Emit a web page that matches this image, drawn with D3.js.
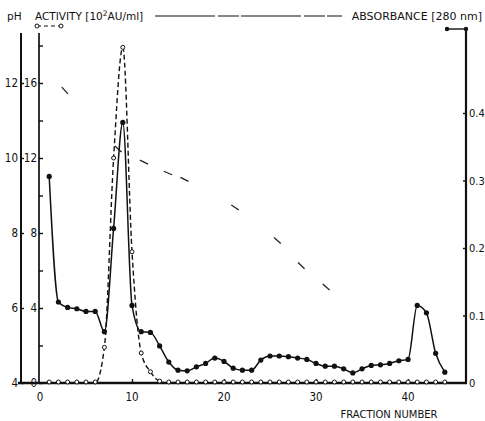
<!DOCTYPE html>
<html>
<head>
<meta charset="utf-8">
<script src="https://cdn.jsdelivr.net/npm/d3@7"></script>
<style>
  body { margin: 0; background: #fff; }
  svg text { font-family: "DejaVu Sans Condensed", "Liberation Sans Narrow", "DejaVu Sans", sans-serif; fill: #111; }
  svg text.wide { font-family: "DejaVu Sans", sans-serif; }
</style>
</head>
<body>
<div id="chart"></div>
<script>
// fraction numbers 1..44
const fractions = d3.range(1, 45);

// absorbance at 280 nm (filled circles)
const absorbance = [
  0.306, 0.120, 0.112, 0.110, 0.106, 0.106, 0.076, 0.229, 0.386, 0.115,
  0.076, 0.075, 0.055, 0.031, 0.019, 0.018, 0.024, 0.029, 0.037, 0.032,
  0.022, 0.019, 0.019, 0.034, 0.040, 0.040, 0.039, 0.037, 0.035, 0.029,
  0.025, 0.025, 0.021, 0.015, 0.021, 0.026, 0.027, 0.029, 0.033, 0.035,
  0.115, 0.104, 0.044, 0.016
];

// activity, 10^2 AU/ml (open circles)
const activity = [
  0, 0, 0, 0, 0, 0, 1.9, 12.0, 17.9, 7.0,
  1.6, 0.6, 0.1, 0, 0, 0, 0, 0, 0, 0,
  0, 0, 0, 0, 0, 0, 0, 0, 0, 0,
  0, 0, 0, 0, 0, 0, 0, 0, 0, 0,
  0, 0, 0, 0
];

// pH gradient readings
const phFractions = [2.7, 8.5, 11.3, 13.9, 15.7, 21.2, 25.8, 28.4, 31.1];
const phValues = [11.8, 10.24, 9.89, 9.6, 9.43, 8.68, 7.8, 7.13, 6.56];

// axis ticks
const xTicks = [0, 10, 20, 30, 40];
const phTicks = [4, 6, 8, 10, 12];
const actTicks = d3.range(0, 19, 2);
const actLabels = [0, 4, 8, 12, 16];
const absTicks = [0, 0.1, 0.2, 0.3, 0.4];

const width = 485, height = 421;
const base = 383;

const svg = d3.select("#chart").append("svg")
  .attr("width", width)
  .attr("height", height);

const x = d3.scaleLinear().domain([0, 46.3]).range([40, 466]);
const yAct = d3.scaleLinear().domain([0, 16]).range([base, 83]);
const yPh = d3.scaleLinear().domain([4, 12]).range([base, 83]);
const yAbs = d3.scaleLinear().domain([0, 0.4]).range([base, 113]);

const absData = fractions.map((f, i) => ({ f, v: absorbance[i] }));
const actData = fractions.map((f, i) => ({ f, v: activity[i] }));
const phData = phFractions.map((f, i) => ({ f, v: phValues[i] }));

// --- axes frame
const axisTop = 33;
svg.append("line")
  .attr("x1", 21).attr("x2", 21).attr("y1", axisTop).attr("y2", base)
  .attr("stroke", "#111").attr("stroke-width", 2);
svg.append("line")
  .attr("x1", x(0) - 1).attr("x2", x(0) - 1).attr("y1", axisTop).attr("y2", base)
  .attr("stroke", "#111").attr("stroke-width", 1.7);
svg.append("line")
  .attr("x1", 466).attr("x2", 466).attr("y1", 31).attr("y2", base)
  .attr("stroke", "#111").attr("stroke-width", 2.2);
svg.append("line")
  .attr("x1", 18).attr("x2", 467).attr("y1", base).attr("y2", base)
  .attr("stroke", "#111").attr("stroke-width", 2.6);

// pH axis (outer left)
const phAxis = d3.axisRight(yPh).tickValues(phTicks).tickSize(3).tickFormat("");
svg.append("g").attr("transform", "translate(21,0)").call(phAxis)
  .call(g => g.select(".domain").remove())
  .call(g => g.selectAll("line").attr("stroke", "#111").attr("stroke-width", 1.4));
svg.selectAll(".ph-label").data(phTicks).join("text")
  .attr("class", "ph-label")
  .attr("x", 18).attr("y", d => yPh(d) + 4)
  .attr("text-anchor", "end").attr("font-size", 11.5)
  .text(d => d);

// activity axis (inner left)
const actAxis = d3.axisRight(yAct).tickValues(actTicks).tickSize(4).tickFormat("");
svg.append("g").attr("transform", `translate(${x(0) - 1},0)`).call(actAxis)
  .call(g => g.select(".domain").remove())
  .call(g => g.selectAll("line").attr("stroke", "#111").attr("stroke-width", 1.4));
svg.selectAll(".act-label").data(actLabels).join("text")
  .attr("class", "act-label")
  .attr("x", 37).attr("y", d => yAct(d) + 4)
  .attr("text-anchor", "end").attr("font-size", 11.5)
  .text(d => d);

// absorbance axis (right)
const absAxis = d3.axisLeft(yAbs).tickValues(absTicks.slice(1)).tickSize(3).tickFormat("");
svg.append("g").attr("transform", "translate(466,0)").call(absAxis)
  .call(g => g.select(".domain").remove())
  .call(g => g.selectAll("line").attr("stroke", "#111").attr("stroke-width", 1.4));
svg.selectAll(".abs-label").data(absTicks).join("text")
  .attr("class", "abs-label")
  .attr("x", 469).attr("y", d => yAbs(d) + 4)
  .attr("font-size", 11)
  .text(d => d === 0 ? "0" : d3.format(".1f")(d));

// x axis
const xAxis = d3.axisTop(x).tickValues(xTicks.slice(1)).tickSize(4).tickFormat("");
svg.append("g").attr("transform", `translate(0,${base})`).call(xAxis)
  .call(g => g.select(".domain").remove())
  .call(g => g.selectAll("line").attr("stroke", "#111").attr("stroke-width", 1.4));
svg.selectAll(".x-label").data(xTicks).join("text")
  .attr("class", "x-label")
  .attr("x", d => x(d)).attr("y", 401)
  .attr("text-anchor", "middle").attr("font-size", 11.5)
  .text(d => d);
svg.append("text").attr("class", "wide")
  .attr("x", 389).attr("y", 418)
  .attr("text-anchor", "middle").attr("font-size", 10)
  .text("FRACTION NUMBER");

// --- pH gradient: short dashes along the gradient at each reading
const phPts = phData.map(d => [x(d.f), yPh(d.v)]);
svg.append("g").selectAll("line").data(phPts).join("line")
  .each(function(p, i) {
    const a = phPts[Math.max(0, i - 1)], b = phPts[Math.min(phPts.length - 1, i + 1)];
    const dx = b[0] - a[0], dy = b[1] - a[1], len = Math.hypot(dx, dy);
    const ux = dx / len * 4.5, uy = dy / len * 4.5;
    d3.select(this)
      .attr("x1", p[0] - ux).attr("y1", p[1] - uy)
      .attr("x2", p[0] + ux).attr("y2", p[1] + uy);
  })
  .attr("stroke", "#222").attr("stroke-width", 1.3);

// --- activity curve
const actLine = d3.line()
  .x(d => x(d.f)).y(d => yAct(d.v))
  .curve(d3.curveMonotoneX);
svg.append("path").datum(actData)
  .attr("d", actLine)
  .attr("fill", "none").attr("stroke", "#111")
  .attr("stroke-width", 1.4).attr("stroke-dasharray", "5,3");

// --- absorbance curve
const absLine = d3.line()
  .x(d => x(d.f)).y(d => yAbs(d.v))
  .curve(d3.curveMonotoneX);
svg.append("path").datum(absData)
  .attr("d", absLine)
  .attr("fill", "none").attr("stroke", "#111")
  .attr("stroke-width", 1.5);

svg.append("g").selectAll("circle").data(actData).join("circle")
  .attr("cx", d => x(d.f)).attr("cy", d => yAct(d.v) - (d.v === 0 ? 1 : 0))
  .attr("r", 2)
  .attr("fill", "#fff").attr("stroke", "#111").attr("stroke-width", 1);

svg.append("g").selectAll("circle").data(absData).join("circle")
  .attr("cx", d => x(d.f)).attr("cy", d => yAbs(d.v))
  .attr("r", 2.6)
  .attr("fill", "#111");

// --- header / legend
svg.append("text").attr("class", "wide").attr("x", 7).attr("y", 20).attr("font-size", 10.5).text("pH");
const actTitle = svg.append("text").attr("class", "wide").attr("x", 35).attr("y", 20).attr("font-size", 10.5);
actTitle.append("tspan").text("ACTIVITY [10");
actTitle.append("tspan").attr("dy", -4).attr("font-size", 7.5).text("2");
actTitle.append("tspan").attr("dy", 4).text("AU/ml]");
svg.append("text").attr("class", "wide").attr("x", 482).attr("y", 20).attr("font-size", 11)
  .attr("text-anchor", "end").text("ABSORBANCE [280 nm]");
svg.append("line")
  .attr("x1", 155).attr("x2", 342).attr("y1", 16).attr("y2", 16)
  .attr("stroke", "#111").attr("stroke-width", 1.2)
  .attr("stroke-dasharray", "60,3,21,2");

// legend marks
svg.append("line").attr("x1", 37).attr("x2", 61).attr("y1", 26).attr("y2", 26)
  .attr("stroke", "#111").attr("stroke-width", 1.2).attr("stroke-dasharray", "4,3");
svg.selectAll(".leg-open").data([37, 61]).join("circle")
  .attr("class", "leg-open")
  .attr("cx", d => d).attr("cy", 26).attr("r", 2)
  .attr("fill", "#fff").attr("stroke", "#111");
svg.append("line").attr("x1", 447).attr("x2", 466).attr("y1", 29).attr("y2", 29)
  .attr("stroke", "#111").attr("stroke-width", 1.4);
svg.selectAll(".leg-fill").data([447, 466]).join("circle")
  .attr("class", "leg-fill")
  .attr("cx", d => d).attr("cy", 29).attr("r", 2.2)
  .attr("fill", "#111");
</script>
</body>
</html>
